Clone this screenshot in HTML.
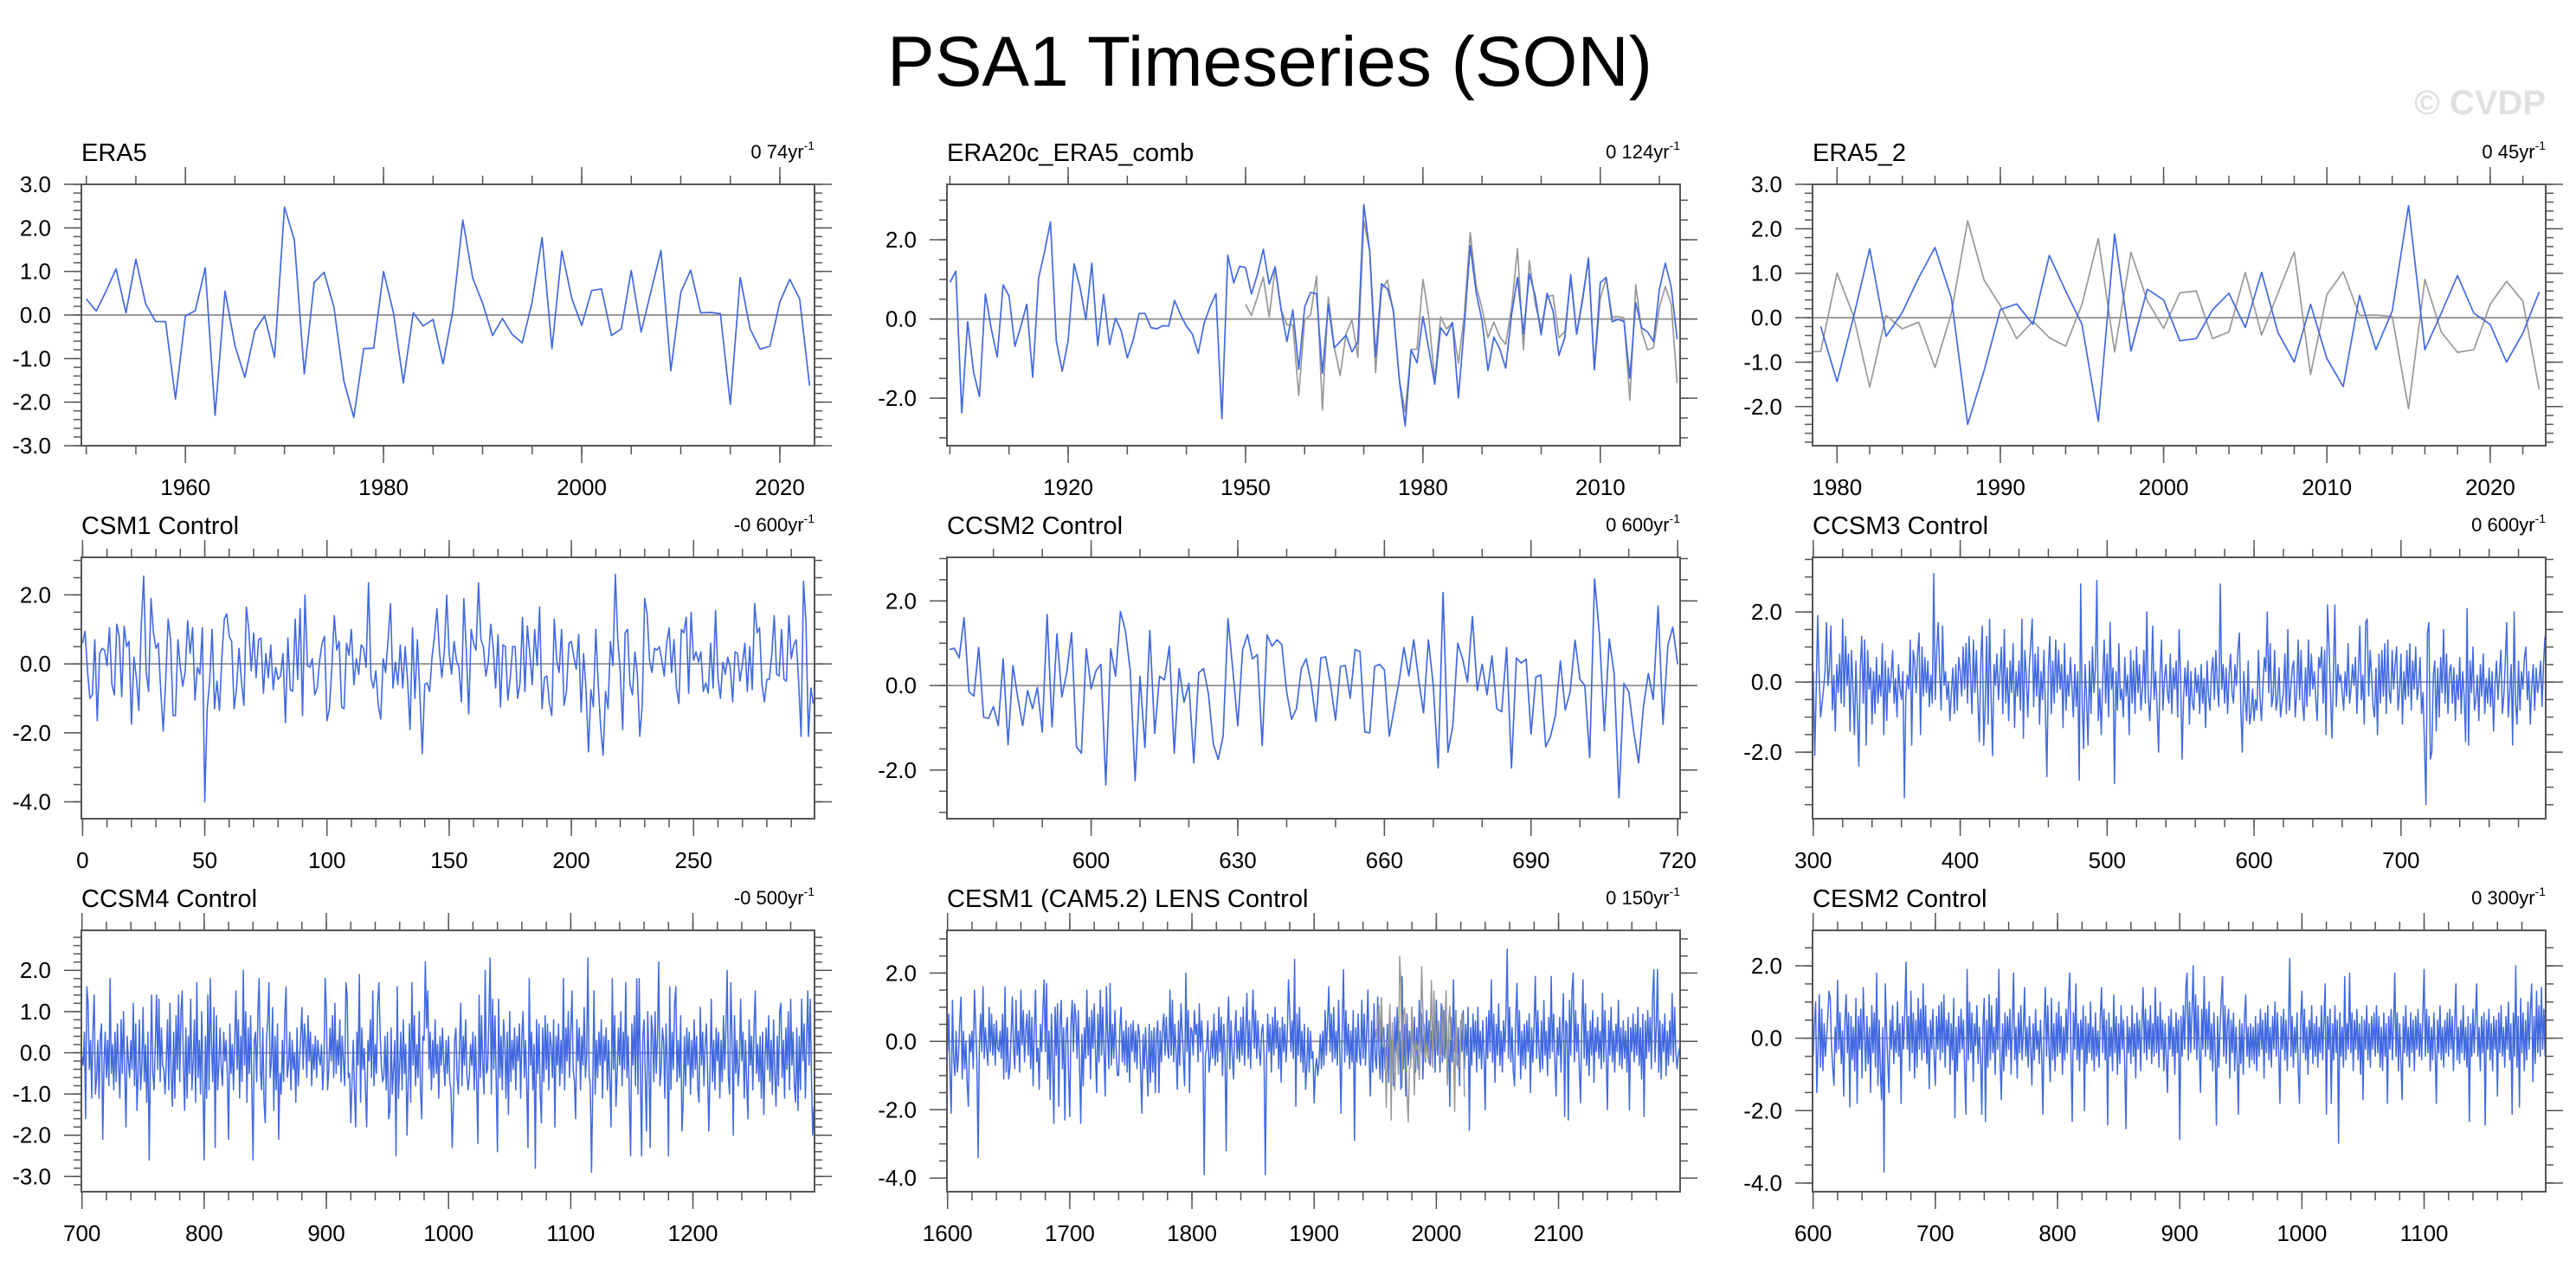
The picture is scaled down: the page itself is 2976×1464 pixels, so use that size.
<!DOCTYPE html>
<html>
<head>
<meta charset="utf-8">
<style>
html,body{margin:0;padding:0;background:#fff;}
svg{display:block;font-family:"Liberation Sans",Arial,sans-serif;}
</style>
</head>
<body>
<svg id="chart" xmlns="http://www.w3.org/2000/svg" width="2976" height="1464" viewBox="0 0 2976 1464">
<rect x="0" y="0" width="2976" height="1464" fill="#fff"/>
<text x="1467" y="99" font-size="82" text-anchor="middle" fill="#000">PSA1 Timeseries (SON)</text>
<text x="2941" y="132" font-size="40" font-weight="bold" text-anchor="end" fill="#e0e0e0">© CVDP</text>
</svg>
<script>
// ---------- DATA ----------
const era5Start = 1950;
const era5Values = [0.37,0.09,0.55,1.06,0.05,1.28,0.25,-0.15,-0.15,-1.93,-0.02,0.1,1.08,-2.3,0.55,-0.7,-1.43,-0.37,-0.02,-0.97,2.48,1.72,-1.35,0.75,0.98,0.17,-1.52,-2.35,-0.77,-0.76,1.0,0.05,-1.56,0.05,-0.25,-0.1,-1.12,0.1,2.18,0.85,0.27,-0.47,-0.08,-0.45,-0.64,0.3,1.78,-0.77,1.47,0.38,-0.24,0.56,0.6,-0.47,-0.32,1.02,-0.39,0.55,1.48,-1.28,0.52,1.03,0.05,0.06,0.03,-2.05,0.86,-0.32,-0.78,-0.72,0.3,0.82,0.37,-1.62];

const era20cStart = 1900;
const era20cValues = [0.92,1.21,-2.37,-0.07,-1.34,-1.96,0.63,-0.25,-0.96,0.86,0.58,-0.69,-0.18,0.37,-1.47,1.03,1.70,2.45,-0.56,-1.32,-0.54,1.39,0.80,-0.02,1.41,-0.67,0.62,-0.65,0.02,-0.31,-0.98,-0.53,0.14,0.14,-0.22,-0.25,-0.17,-0.18,0.47,0.11,-0.18,-0.38,-0.87,-0.11,0.31,0.64,-2.52,1.61,0.91,1.33,1.30,0.63,1.12,1.76,0.88,1.32,0.25,-0.57,0.23,-1.27,0.30,0.67,0.64,-1.37,0.36,-0.73,-0.57,-0.41,-0.83,-0.58,2.89,1.70,-0.96,0.89,0.76,0.23,-1.52,-2.70,-0.78,-1.11,0.06,-0.76,-1.65,-0.22,-0.42,-0.09,-1.99,-0.17,1.86,0.67,-0.04,-1.30,-0.46,-0.76,-1.24,0.11,1.05,-0.38,1.14,0.58,-0.40,0.65,0.20,-0.92,-0.47,1.12,-0.38,0.47,1.54,-1.28,0.92,1.05,-0.07,-0.01,-0.06,-1.49,0.41,-0.22,-0.33,-0.57,0.75,1.41,0.80,-0.51];

const era5bStart = 1979;
const era5bValues = [-0.2,-1.44,0.0,1.55,-0.42,0.12,0.9,1.58,0.45,-2.4,-1.2,0.18,0.31,-0.15,1.4,0.6,-0.15,-2.33,1.88,-0.75,0.64,0.4,-0.52,-0.47,0.18,0.55,-0.22,1.02,-0.33,-1.0,0.3,-0.92,-1.55,0.5,-0.72,0.15,2.52,-0.72,0.1,0.95,0.1,-0.15,-1.0,-0.35,0.58];

const csm1Start = 0;
const csm1Values = [0.6,0.95,-0.2,-1.0,-0.9,0.7,-1.65,0.3,0.45,0.4,-0.05,1.05,-0.6,-0.9,1.15,0.8,-0.95,1.1,0.5,0.65,-1.75,0.2,-0.4,-1.35,1.1,2.55,-0.2,-0.8,1.9,0.9,0.45,0.6,-0.8,-1.95,-0.5,1.3,0.7,-1.5,-1.5,0.7,-0.1,-0.65,-0.2,1.25,0.3,1.05,-1.05,-0.1,-0.3,1.05,-4.0,-1.3,-0.5,1.0,-1.3,-0.5,-1.35,0.2,1.3,1.45,0.8,0.65,-1.3,-0.7,0.45,-0.5,-1.2,1.65,1.0,-0.2,0.9,-0.4,0.7,0.75,-0.85,0.3,-0.4,0.55,-0.75,-0.1,-0.45,-0.35,0.3,-1.7,0.75,-0.75,-0.8,1.3,-0.45,1.6,-1.5,2.0,-0.05,-0.1,0.15,-0.9,-0.7,0.1,0.6,0.8,-1.65,-1.3,-0.1,1.4,0.4,0.65,-1.25,-1.3,0.6,0.25,1.0,-0.6,0.15,-0.3,0.55,0.45,-0.1,2.35,-0.4,-0.7,-0.2,-1.2,-1.6,0.15,-0.25,0.7,1.75,-0.7,0.05,-0.6,0.55,-0.7,0.5,-0.5,-1.9,1.05,-1.0,0.7,-0.85,-2.6,-0.6,-0.55,-0.8,0.2,0.8,1.6,0.4,-0.4,0.35,2.0,0.3,-0.3,0.65,0.1,-0.1,-1.1,1.9,0.4,-1.45,1.0,0.6,0.4,2.35,0.7,0.5,-0.35,0.05,1.15,0.5,-0.7,0.85,-1.25,0.55,0.5,-1.05,-0.4,0.5,0.5,-1.0,-0.55,1.35,-0.8,1.1,0.3,-0.6,1.0,-0.05,1.65,-1.3,-0.4,-0.35,-1.15,-1.5,1.3,0.1,-0.25,1.0,-1.2,-0.8,0.6,0.65,0.2,-0.15,0.85,-1.4,0.3,-0.75,-2.55,-0.75,-1.25,1.0,-0.6,-1.85,-2.65,-0.8,-1.3,0.65,-0.05,2.6,0.7,-0.2,-1.9,0.9,1.0,-0.6,-0.9,0.35,-0.3,-2.1,-1.2,1.9,1.45,0.1,-0.25,0.45,0.4,0.5,0.1,-0.35,0.6,1.05,-0.25,0.7,-0.7,-1.15,1.0,0.9,1.35,-0.85,1.5,0.1,0.35,0.05,0.35,-0.8,-0.55,-0.85,0.6,-0.7,1.55,-0.4,-1.0,0.05,-0.3,0.2,-0.1,-1.1,0.35,0.3,-0.5,0.0,0.6,-0.8,0.5,-0.75,1.75,0.9,1.05,-0.6,-1.1,-0.45,-0.45,0.25,1.4,-0.3,-0.35,1.0,-0.45,-0.5,1.4,0.15,0.55,0.7,-0.5,-2.1,2.4,1.2,-2.1,-0.7,-1.15];

const ccsm2Start = 571;
const ccsm2Values = [0.85,0.88,0.65,1.6,-0.15,-0.25,0.9,-0.75,-0.78,-0.5,-0.95,0.63,-1.4,0.47,-0.3,-0.95,-0.12,-0.55,-0.05,-1.1,1.68,-0.98,1.22,-0.27,0.3,1.25,-1.45,-1.6,0.87,-0.08,0.35,0.5,-2.35,0.87,0.22,1.75,1.3,0.35,-2.25,0.22,-1.47,1.3,-1.13,0.22,0.13,0.93,-1.6,0.4,-0.4,0.05,-1.83,0.3,0.4,-0.2,-1.38,-1.75,-1.2,1.58,0.35,-0.95,0.85,1.2,0.63,0.73,-1.42,1.2,0.93,1.08,0.97,-0.15,-0.8,-0.55,0.4,0.63,0.05,-0.85,0.65,0.68,0.0,-0.82,0.45,0.47,-0.3,0.85,0.8,-1.1,-1.12,0.45,0.5,0.37,-1.2,-0.55,0.1,0.9,0.23,1.08,0.15,-0.65,1.08,0.0,-1.95,2.2,-1.58,-0.95,1.0,0.63,0.08,1.63,-0.12,0.5,-0.22,0.7,-0.55,-0.62,0.9,-1.95,0.65,0.53,0.62,-1.15,0.2,0.25,-1.45,-1.2,-0.7,0.58,-0.58,-0.15,1.07,0.15,0.0,-1.7,2.52,1.2,-1.07,1.1,0.28,-2.65,0.05,-0.15,-1.08,-1.83,-0.5,0.28,-0.33,1.88,-0.92,0.95,1.38,0.5];

// dense control-run series stored in tenths of a standard deviation
const ccsm3Start = 300;
const ccsm3Tenths = [3,-21,-2,19,2,-10,-6,-2,3,17,-1,4,16,-8,2,-14,5,-3,8,-6,
18,-7,13,-1,8,-14,9,-2,-15,6,-8,-24,4,13,-6,12,-18,9,-2,4,
-12,3,-9,7,-6,2,-4,11,-15,6,-11,4,-3,2,9,-6,1,-10,5,-2,
-5,3,-33,-4,2,-2,12,-18,9,6,-3,8,14,-15,10,-4,7,-3,6,-7,
2,-6,31,-5,9,17,3,-8,16,-1,3,-5,0,-11,-3,4,-9,5,-8,7,
3,-4,10,-2,11,-6,13,2,-9,12,-3,9,-5,-17,6,16,-18,-7,13,-12,
18,-4,-21,5,-1,8,-5,2,10,-9,15,-6,4,-11,6,-3,11,-13,3,-4,
6,-8,18,-16,9,2,-10,4,11,18,-7,8,-4,10,-12,3,-5,9,-8,-27,
4,13,-9,6,-6,12,-3,9,-2,5,-13,11,-8,2,-4,7,-1,-10,5,-7,
3,-28,28,-6,-19,5,-5,-18,6,-9,10,-3,4,29,-11,-2,-15,1,12,-6,
8,-10,17,-2,4,-29,3,-8,11,-5,-2,-10,7,-4,2,-15,9,-6,6,-9,
10,-3,5,-8,-2,9,-6,20,-4,-11,-1,16,-5,3,-7,-20,2,12,-8,1,
5,-3,-6,8,-9,4,-2,6,-10,15,2,-22,-5,4,-4,6,-12,3,-6,-8,
4,-3,2,-9,5,-6,1,-13,6,-4,-8,3,7,-5,9,-1,-7,28,-2,5,
-6,4,-9,2,8,-3,-6,5,-1,9,14,-8,-20,3,-5,-11,6,-12,-9,-2,
-11,-5,-8,9,-4,-11,-2,7,3,20,-3,11,-7,-4,9,-8,-5,4,-10,-6,
-3,8,-9,15,-8,-2,4,6,-10,-3,12,-5,9,-6,-11,4,-7,12,-4,8,
-2,3,-5,-11,7,4,10,-6,9,-15,22,11,-3,-16,2,22,-7,5,0,2,
-3,-8,3,-4,11,-6,-2,5,-1,7,-9,3,16,-5,2,-12,17,18,-4,9,
2,-7,-10,4,-15,8,-6,9,-4,11,-9,12,-3,-6,9,-2,5,10,-8,-3,
8,-12,3,-5,9,-4,11,-8,6,-2,10,-5,-1,7,-9,-3,-18,-35,14,17,
-22,-20,2,6,-14,4,-10,7,-3,15,-6,8,-9,3,5,-6,4,-11,2,-5,
7,-9,3,-4,-17,21,-18,6,-3,10,-8,-5,2,-11,5,-4,8,-9,1,-6,
4,-7,3,-14,-1,6,-5,2,9,-9,-4,6,17,-10,-3,5,-18,20,-6,-12,
6,-8,3,-2,7,10,-5,3,-12,-1,5,-8,4,-3,0,6,-7,5,13];

const ccsm4Start = 700;
const ccsm4Tenths = [-1,-3,5,-16,16,12,-4,3,-11,6,14,-10,-6,3,-11,4,7,-21,-3,5,
-6,3,-8,18,-5,2,-9,5,-7,7,-3,-11,8,-5,10,-4,-18,4,-2,-6,
3,-4,12,-8,7,-14,-5,8,-9,-3,11,-7,2,-12,5,-26,-3,14,-5,-9,
2,14,-4,13,-7,6,-3,-4,-10,-2,8,-9,12,-6,-13,5,-11,9,-4,14,
-7,10,15,-3,-14,6,-11,4,-5,13,-9,-2,8,-12,17,-6,3,-10,10,-8,
-26,4,-11,14,-9,18,2,-7,11,-23,9,-9,-3,6,-4,-8,5,-2,3,-6,
-21,7,-5,2,-9,3,15,-4,8,-11,4,-7,20,-3,10,-12,6,-5,9,-8,
-26,3,5,-7,10,18,-4,-9,6,-12,-17,3,8,17,-6,-2,11,-14,4,-9,
7,-21,-5,-10,3,-7,9,16,-6,-3,5,-9,3,-4,0,-12,6,-8,-2,4,
11,-4,7,3,-6,9,-2,5,-8,2,-4,4,-6,3,-1,-3,2,-9,-3,18,
10,-9,-4,6,-2,9,-6,12,-5,3,-3,8,-7,4,-2,-8,17,14,-6,-5,
-17,-7,3,-9,-18,5,-3,19,-12,6,-4,1,-9,-18,3,-2,8,-6,15,-8,
2,-5,12,17,5,-3,-7,-6,4,-9,5,-16,-14,6,-10,-4,3,-25,16,-11,
-3,5,-9,8,-5,2,-20,-7,7,-12,17,-3,9,-8,2,-6,10,-9,-16,4,
3,22,6,15,-4,5,-9,3,-6,8,-5,2,-11,4,-3,6,-2,-8,3,-5,
4,-7,-9,-23,-12,3,6,-6,-10,2,12,-8,4,-3,8,-5,-9,-6,2,-3,
5,-9,4,-7,-22,14,-6,9,-3,-10,20,-5,-4,8,23,-10,13,-4,9,-7,
-24,13,-6,4,-9,8,3,-11,5,-15,10,-7,3,-4,6,-9,4,-2,7,-11,
4,10,-6,3,-8,-23,18,-3,5,-9,2,-28,8,-5,7,-10,-17,6,-7,9,
-4,7,-9,5,2,-6,8,-18,4,-3,7,-8,3,-5,18,-9,6,-2,10,-6,
5,15,-4,-7,-16,8,-2,6,-9,4,-3,11,-6,-1,23,-5,-8,-29,-9,15,
-10,3,-6,5,-3,8,-11,4,-2,6,-9,3,-7,-18,18,-4,9,-13,-5,6,
-3,10,-8,5,-4,17,-6,4,-12,-25,7,-3,9,-8,18,-10,18,-5,-25,4,
8,-6,-19,10,-3,-23,9,5,-7,10,-5,4,22,-8,-4,6,3,-11,7,-3,
-25,16,-9,5,-4,12,16,-7,3,-6,9,-19,-12,4,-8,6,-3,5,-10,3,
-6,8,-4,4,-9,-12,11,-3,5,-8,2,7,-5,-19,-4,13,-7,3,-9,6,
-2,5,-11,3,-7,9,-4,6,20,-6,-10,17,4,-20,9,-5,3,-8,-3,13,
-2,5,-11,3,-7,-16,8,-3,4,-9,6,15,-5,2,-7,4,-11,5,-15,-1,
6,-4,9,-7,3,-10,8,-5,-13,4,-8,10,12,-6,3,-11,6,-4,10,-9,
13,-3,5,-8,-12,6,-14,4,-9,13,-2,7,-11,3,15,-3,13,-6,-20,-13];

const cesm1Start = 1600;
const cesm1Tenths = [-3,8,-10,-21,12,-5,-10,3,-9,-4,6,13,-11,3,-8,0,-12,-19,2,-3,
3,-8,15,5,-6,-34,-2,8,-3,16,-5,4,-2,-7,10,-3,8,-4,5,-7,
6,-2,-3,3,-5,8,-11,16,-9,4,-11,-8,2,13,-2,-8,12,-4,3,-9,
15,-1,9,-6,3,8,-4,9,-8,7,-13,4,15,-6,-2,-14,5,-3,9,18,
-3,17,-11,3,-17,8,-6,-24,10,-4,11,-19,5,12,-8,4,-23,3,7,-9,
-22,5,12,-3,11,7,-5,9,-7,-24,2,-13,4,-5,15,-4,7,-11,9,-2,
11,-3,-15,8,-6,15,-4,10,-3,-16,16,2,-8,17,-7,5,-5,9,-3,-10,
-10,4,10,-6,3,-7,6,-9,4,-12,5,-3,6,-6,3,-8,5,2,-9,-21,
2,-8,4,-6,-16,5,-12,3,-9,4,-15,2,6,-15,3,-6,4,8,-4,7,
-2,-5,15,-4,12,-6,5,-3,-14,6,-7,11,3,-5,-13,20,-3,9,-15,4,
3,-4,9,2,5,-6,11,-3,6,-2,-39,-4,-2,6,-9,-5,3,-5,8,-7,
3,-6,10,-3,7,-10,5,-2,-32,4,13,-8,6,-4,-11,2,9,-5,3,-6,
7,-4,10,-7,3,14,-5,6,-8,4,15,-2,9,-5,6,-3,-7,3,5,-4,
-39,-6,8,-3,5,-9,7,-4,10,-2,6,-8,4,-12,7,-3,5,-6,2,18,
9,-3,6,-5,24,-19,8,-4,10,-6,3,-9,5,-14,-7,4,-9,3,-5,-3,
-18,-8,-5,-10,-6,2,-8,3,-7,9,-4,6,16,-3,8,-6,10,-5,3,-7,
12,-3,-21,5,21,-6,9,-4,5,-8,3,-6,9,-29,4,-6,8,-3,-7,12,
-5,8,-7,3,15,-4,-16,6,-9,11,-5,-8,13,-3,-11,6,-12,4,-8,-3,
5,-12,9,-6,3,-13,7,-4,10,-9,3,-14,19,-8,5,-16,8,-7,3,-6,
10,-5,7,-9,4,-8,12,-3,8,-11,5,-6,9,-4,6,-7,3,-5,8,-9,
12,-4,6,-9,11,-6,9,-5,8,-11,4,-19,7,-6,18,-3,9,-7,4,-13,
6,-3,9,-8,5,-4,10,-26,4,-7,8,-3,6,-9,10,-5,3,-8,6,-4,
-20,7,-5,9,-3,18,-6,8,-12,5,-4,11,-7,3,-9,6,-3,8,27,-5,
10,-6,4,-9,-13,7,17,-4,9,-11,3,-7,5,-8,6,-3,8,-15,4,-6,
5,19,-5,9,-3,-9,6,-8,12,-4,3,-10,7,-5,19,-3,8,-6,-16,4,
-4,7,-9,4,14,-22,6,5,-23,12,-4,15,20,-6,9,-3,5,-8,-18,4,
18,-5,11,-7,3,-10,6,-4,9,-12,4,-3,7,-5,3,-8,14,-6,9,-4,
-20,6,-4,10,-6,3,-9,5,-3,12,-7,4,-8,6,-5,3,-9,7,-20,4,
-3,8,-6,5,-4,10,-7,4,-11,8,-22,6,-5,9,-3,7,-8,13,21,-6,
4,21,-9,6,-11,5,-3,8,-10,3,-7,6,-4,14,-6,10,-3,-8,-4,-2];

const cesm2Start = 600;
const cesm2Tenths = [-5,4,10,-15,-3,12,-8,8,-9,4,-5,0,6,13,11,-2,-8,-13,3,-4,
16,-3,7,-7,2,-16,5,12,-4,7,-19,6,-6,3,-9,11,-18,6,-3,8,
-11,14,2,-9,6,-7,3,-15,9,-4,7,-8,18,-13,5,-9,-17,3,-37,15,
3,-6,-15,5,-3,9,-7,2,-4,10,-5,4,-18,6,-3,8,21,-3,6,-9,
13,-4,7,-11,5,-8,11,-3,8,-6,15,-4,9,-7,3,-14,5,-3,8,-5,
-13,6,-3,9,-6,10,-4,12,-8,5,-2,7,-10,4,-6,11,-22,3,-9,6,
-4,8,-3,5,-9,-21,19,-6,10,-4,7,-12,4,-2,9,-7,3,-5,-21,4,
11,-23,5,-8,12,-6,9,-4,3,-10,11,-3,19,-7,-17,4,-9,7,-5,6,
-3,8,-10,5,18,-6,3,-11,7,-4,9,-6,2,14,-5,3,-8,6,-2,-13,
4,-6,8,-3,2,-7,5,-4,-21,3,14,-5,9,-3,-12,11,-6,4,-9,7,
-5,10,-4,6,-10,3,-6,8,-4,11,18,-5,-23,7,-3,15,-6,4,-9,5,
-3,9,-20,6,-7,4,-4,10,-6,3,-9,7,-5,2,-8,6,14,-4,8,-6,
5,-24,7,-5,3,-9,12,-4,6,-10,4,-7,9,-3,5,-8,-25,6,-4,3,
-7,9,-5,4,-11,7,-3,5,-9,3,14,-4,8,-6,5,-3,9,-7,4,-5,
14,-4,6,-8,10,-3,5,-9,4,-6,-15,6,-3,8,-5,3,-10,7,-4,5,
-28,6,-5,9,-3,14,18,-6,10,-4,7,20,-3,12,-6,9,-4,-15,8,-3,
17,-5,8,-3,10,-6,4,-9,7,-4,-24,6,-8,3,11,17,-5,9,-7,4,
8,-11,5,-4,7,-9,3,-6,-21,5,-7,4,-10,6,12,-5,3,-8,4,-6,
3,-7,6,-9,4,-5,8,-3,5,-11,7,-4,9,-6,3,-8,6,-3,10,-5,
7,-4,-18,6,-3,8,-6,5,-9,4,22,-5,6,-8,3,-4,7,-9,-18,5,
13,-4,8,-6,3,-10,5,-3,9,-7,4,-5,6,-8,3,-4,9,-6,5,15,
-21,6,-3,8,-18,4,-6,9,-4,5,-29,7,-5,3,-8,17,-6,4,-3,18,
-4,7,-9,5,-3,8,-6,4,-10,6,-17,5,-3,9,-6,4,-8,6,-3,7,
-5,9,-4,6,-8,3,-9,7,-5,4,-18,6,-3,8,-6,4,18,-5,7,-9,
4,-6,-17,6,-4,9,-5,3,-8,7,-4,5,-9,6,-3,8,-5,4,-6,7,
19,-5,8,-4,6,-9,3,-6,7,-3,-18,5,-4,9,-6,3,-8,5,-4,7,
-5,8,-3,6,-9,4,15,-6,3,-7,5,-4,9,-6,3,-8,6,-23,4,-5,
8,-4,6,15,-5,3,-9,6,-4,7,-24,5,-3,8,-6,4,-9,6,-3,5,
-16,7,-4,9,-5,3,-8,6,-3,10,-6,4,-21,7,-5,20,-8,6,-19,11,
-4,7,-9,5,-6,10,-3,8,15,-12,6,-7,13,-4,9,-5,14,-3,8,-5];

// tick label arrays
const era5XTicks = [1960,1980,2000,2020];
const era20cXTicks = [1920,1950,1980,2010];
const era5bXTicks = [1980,1990,2000,2010,2020];
const csm1XTicks = [0,50,100,150,200,250];
const ccsm2XTicks = [600,630,660,690,720];
const ccsm3XTicks = [300,400,500,600,700];
const ccsm4XTicks = [700,800,900,1000,1100,1200];
const cesm1XTicks = [1600,1700,1800,1900,2000,2100];
const cesm2XTicks = [600,700,800,900,1000,1100];
const yTicks3 = [3,2,1,0,-1,-2,-3];
const yTicks2 = [2,0,-2];
const yTicksB = [3,2,1,0,-1,-2];
const yTicks4 = [2,0,-2,-4];
const yTicksC4 = [2,1,0,-1,-2,-3];

// ---------- DRAWING ----------
const NS = 'http://www.w3.org/2000/svg';
const svg = document.getElementById('chart');
function mk(tag, attrs, parent) {
  const e = document.createElementNS(NS, tag);
  for (const k in attrs) e.setAttribute(k, attrs[k]);
  (parent || svg).appendChild(e);
  return e;
}
function toSeries(start, vals, scale) {
  return vals.map((v, i) => ({x: start + i, y: v * scale}));
}
const BLUE = '#4169e1', GREY = '#999999', AXIS = '#555555';
const COLS = [94, 1094, 2094], ROWS = [213, 644, 1075], W = 847, H = 302;

const panels = [
  {key:'era5', title:'ERA5', trend:'0 74yr', col:0, row:0, xr:[1949.5,2023.5], yr:[-3,3], xt:era5XTicks, xm:5, yt:yTicks3, ym:0.2, lw:1.7,
   series:[{name:'era5-line', pts:toSeries(era5Start, era5Values, 1), c:BLUE}]},
  {key:'era20c', title:'ERA20c_ERA5_comb', trend:'0 124yr', col:1, row:0, xr:[1899.5,2023.5], yr:[-3.2,3.4], xt:era20cXTicks, xm:10, yt:yTicks2, ym:0.5, lw:1.7,
   series:[{name:'era5-reference-line', pts:toSeries(era5Start, era5Values, 1), c:GREY},{name:'era20c-line', pts:toSeries(era20cStart, era20cValues, 1), c:BLUE}]},
  {key:'era5b', title:'ERA5_2', trend:'0 45yr', col:2, row:0, xr:[1978.5,2023.4], yr:[-2.88,3.0], xt:era5bXTicks, xm:2, yt:yTicksB, ym:0.2, lw:1.7,
   series:[{name:'era5-reference-line', pts:toSeries(era5Start, era5Values, 1), c:GREY},{name:'era5-2-line', pts:toSeries(era5bStart, era5bValues, 1), c:BLUE}]},
  {key:'csm1', title:'CSM1 Control', trend:'-0 600yr', col:0, row:1, xr:[-0.5,299.5], yr:[-4.49,3.09], xt:csm1XTicks, xm:10, yt:yTicks4, ym:0.5, lw:1.6,
   series:[{name:'csm1-line', pts:toSeries(csm1Start, csm1Values, 1), c:BLUE}]},
  {key:'ccsm2', title:'CCSM2 Control', trend:'0 600yr', col:1, row:1, xr:[570.5,720.5], yr:[-3.15,3.03], xt:ccsm2XTicks, xm:10, yt:yTicks2, ym:0.5, lw:1.7,
   series:[{name:'ccsm2-line', pts:toSeries(ccsm2Start, ccsm2Values, 1), c:BLUE}]},
  {key:'ccsm3', title:'CCSM3 Control', trend:'0 600yr', col:2, row:1, xr:[299.5,798.5], yr:[-3.9,3.56], xt:ccsm3XTicks, xm:20, yt:yTicks2, ym:0.5, lw:1.5,
   series:[{name:'ccsm3-line', pts:toSeries(ccsm3Start, ccsm3Tenths, 0.1), c:BLUE}]},
  {key:'ccsm4', title:'CCSM4 Control', trend:'-0 500yr', col:0, row:2, xr:[699.5,1299.5], yr:[-3.37,2.97], xt:ccsm4XTicks, xm:20, yt:yTicksC4, ym:0.2, lw:1.5,
   series:[{name:'ccsm4-line', pts:toSeries(ccsm4Start, ccsm4Tenths, 0.1), c:BLUE}]},
  {key:'cesm1', title:'CESM1 (CAM5.2) LENS Control', trend:'0 150yr', col:1, row:2, xr:[1599.5,2199.5], yr:[-4.4,3.25], xt:cesm1XTicks, xm:20, yt:yTicks4, ym:0.5, lw:1.5,
   series:[{name:'cesm1-line', pts:toSeries(cesm1Start, cesm1Tenths, 0.1), c:BLUE},{name:'era5-reference-line', pts:toSeries(era5Start, era5Values, 1), c:GREY}]},
  {key:'cesm2', title:'CESM2 Control', trend:'0 300yr', col:2, row:2, xr:[599.5,1199.5], yr:[-4.24,2.98], xt:cesm2XTicks, xm:20, yt:yTicks4, ym:0.5, lw:1.5,
   series:[{name:'cesm2-line', pts:toSeries(cesm2Start, cesm2Tenths, 0.1), c:BLUE}]}
];

panels.forEach(p => {
  const L = COLS[p.col], T = ROWS[p.row], R = L + W, B = T + H;
  const sx = v => L + (v - p.xr[0]) / (p.xr[1] - p.xr[0]) * W;
  const sy = v => B - (v - p.yr[0]) / (p.yr[1] - p.yr[0]) * H;
  const g = mk('g', {});
  
  

  const clipId = 'clip-' + p.key;
  const cp = mk('clipPath', {id: clipId}, g);
  mk('rect', {x: L, y: T, width: W, height: H}, cp);

  const title = mk('text', {x: L, y: T - 27, 'font-size': 29, fill: '#000'}, g);
  title.textContent = p.title;
  
  

  const tr = mk('text', {x: R, y: T - 30, 'font-size': 22, fill: '#000', 'text-anchor': 'end'}, g);
  
  
  const t1 = mk('tspan', {}, tr); t1.textContent = p.trend;
  const t2 = mk('tspan', {dy: -10, 'font-size': 14}, tr); t2.textContent = '-1';

  const zl = mk('line', {x1: L, x2: R, y1: sy(0), y2: sy(0), stroke: GREY, 'stroke-width': 2}, g);
  
  

  p.series.forEach(s => {
    const d = s.pts.map((pt, i) => (i ? 'L' : 'M') + sx(pt.x).toFixed(2) + ' ' + sy(pt.y).toFixed(2)).join('');
    const path = mk('path', {d: d, fill: 'none', stroke: s.c, 'stroke-width': p.lw, 'stroke-linejoin': 'round', 'clip-path': 'url(#' + clipId + ')'}, g);
    
    
  });

  const box = mk('rect', {x: L, y: T, width: W, height: H, fill: 'none', stroke: AXIS, 'stroke-width': 2}, g);
  
  

  const xAxis = mk('g', {stroke: AXIS, 'stroke-width': 1.5}, g);
  
  
  for (let v = Math.ceil(p.xr[0] / p.xm) * p.xm; v <= p.xr[1]; v += p.xm) {
    const x = sx(v);
    mk('line', {x1: x, x2: x, y1: T, y2: T - 10}, xAxis);
    mk('line', {x1: x, x2: x, y1: B, y2: B + 10}, xAxis);
  }
  p.xt.forEach(v => {
    const x = sx(v);
    mk('line', {x1: x, x2: x, y1: T, y2: T - 20}, xAxis);
    mk('line', {x1: x, x2: x, y1: B, y2: B + 20}, xAxis);
    const lab = mk('text', {x: x, y: B + 57, 'font-size': 26, 'text-anchor': 'middle', fill: '#000', stroke: 'none'}, g);
    lab.textContent = String(v);
    
    
  });

  const yAxis = mk('g', {stroke: AXIS, 'stroke-width': 1.5}, g);
  
  
  const n0 = Math.ceil(p.yr[0] / p.ym - 1e-6), n1 = Math.floor(p.yr[1] / p.ym + 1e-6);
  for (let n = n0; n <= n1; n++) {
    const y = sy(n * p.ym);
    mk('line', {x1: L, x2: L - 9, y1: y, y2: y}, yAxis);
    mk('line', {x1: R, x2: R + 9, y1: y, y2: y}, yAxis);
  }
  p.yt.forEach(v => {
    const y = sy(v);
    mk('line', {x1: L, x2: L - 20, y1: y, y2: y}, yAxis);
    mk('line', {x1: R, x2: R + 20, y1: y, y2: y}, yAxis);
    const lab = mk('text', {x: L - 35, y: y + 9, 'font-size': 26, 'text-anchor': 'end', fill: '#000', stroke: 'none'}, g);
    lab.textContent = v.toFixed(1);
    
    
  });
});
</script>
</body>
</html>
